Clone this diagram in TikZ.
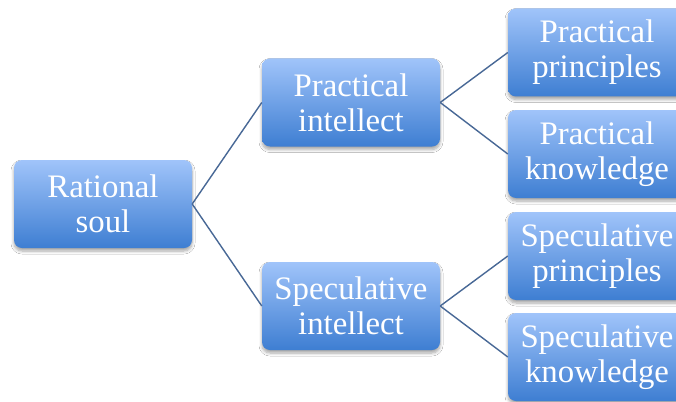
\documentclass[tikz,border=0pt]{standalone}
\usepackage{fontspec}
\setmainfont{Liberation Serif}
\usetikzlibrary{shadows.blur}
\definecolor{boxtop}{RGB}{160,196,250}
\definecolor{boxbot}{RGB}{62,126,210}
\definecolor{linecol}{RGB}{72,104,150}
\tikzset{
  box/.style={rounded corners=8pt, minimum width=178pt, minimum height=88pt,
    inner sep=0pt, align=center, text=white,
    top color=boxtop, bottom color=boxbot, draw=none,
    font=\fontsize{32.8}{35}\selectfont,
    blur shadow={shadow xshift=0pt, shadow yshift=-3pt, shadow blur steps=6, shadow opacity=35, shadow blur radius=3pt}},
  conn/.style={draw=linecol, line width=1.4pt}
}
\begin{document}
\begin{tikzpicture}[x=1pt,y=1pt]
\useasboundingbox (0,0) rectangle (676,-401);
\clip (0,0) rectangle (676,-401);
\fill[white] (0,0) rectangle (676,-401);
\node[box] (rs) at (103,-204) {Rational\\soul};
\node[box] (pi) at (351,-102.5) {Practical\\intellect};
\node[box] (si) at (351,-306) {Speculative\\intellect};
\node[box] (pp) at (597,-52.5) {Practical\\principles};
\node[box] (pk) at (597,-154) {Practical\\knowledge};
\node[box] (sp) at (597,-256) {Speculative\\principles};
\node[box] (sk) at (597,-357) {Speculative\\knowledge};
\draw[conn] (rs.east) -- (pi.west);
\draw[conn] (rs.east) -- (si.west);
\draw[conn] (pi.east) -- (pp.west);
\draw[conn] (pi.east) -- (pk.west);
\draw[conn] (si.east) -- (sp.west);
\draw[conn] (si.east) -- (sk.west);
\end{tikzpicture}
\end{document}
